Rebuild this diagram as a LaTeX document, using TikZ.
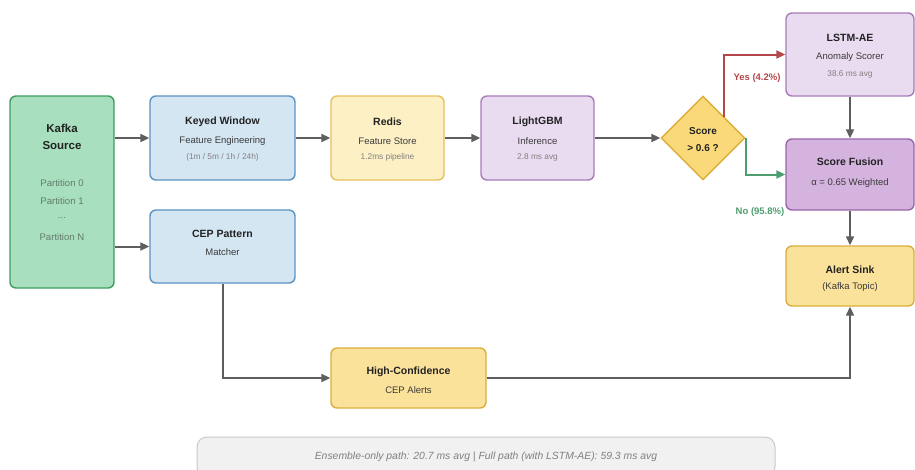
\documentclass[tikz,border=0pt]{standalone}
\usepackage{fontspec}
\setmainfont{Liberation Sans}
\usetikzlibrary{shapes.geometric,arrows.meta,calc}
\definecolor{linegray}{HTML}{5E5E5E}
\definecolor{kfill}{HTML}{A8E0BF}
\definecolor{kdraw}{HTML}{3E9C5E}
\definecolor{bfill}{HTML}{D5E6F3}
\definecolor{bdraw}{HTML}{5B94C2}
\definecolor{yfill}{HTML}{FDF0C5}
\definecolor{ydraw}{HTML}{E6C05C}
\definecolor{pfill}{HTML}{EADCF0}
\definecolor{pdraw}{HTML}{A77BB8}
\definecolor{p2fill}{HTML}{D5B3DF}
\definecolor{p2draw}{HTML}{9A64AB}
\definecolor{gfill}{HTML}{FBE29A}
\definecolor{gdraw}{HTML}{DCAE3C}
\definecolor{dfill}{HTML}{F9D97A}
\definecolor{ffill}{HTML}{F1F1F1}
\definecolor{fdraw}{HTML}{C9C9C9}
\definecolor{titlecol}{HTML}{222222}
\definecolor{subcol}{HTML}{3A3A3A}
\definecolor{smallcol}{HTML}{808080}
\definecolor{partcol}{HTML}{647A6B}
\definecolor{yescol}{HTML}{B5474A}
\definecolor{nocol}{HTML}{4D9E6E}
\tikzset{
  box/.style={draw, rounded corners=6pt, line width=1.4pt, inner sep=0pt},
  ttl/.style={font=\fontsize{10.5}{12}\selectfont\bfseries, text=titlecol, inner sep=0pt},
  bigttl/.style={font=\fontsize{11.5}{14}\selectfont\bfseries, text=titlecol, inner sep=0pt},
  sub/.style={font=\fontsize{9.5}{11}\selectfont, text=subcol, inner sep=0pt},
  small/.style={font=\fontsize{8.3}{9}\selectfont, text=smallcol, inner sep=0pt},
  part/.style={font=\fontsize{9.6}{10}\selectfont, text=partcol, inner sep=0pt},
  arr/.style={draw=linegray, line width=2pt, -{Triangle[length=9pt,width=8pt]}},
  lbl/.style={font=\fontsize{9.5}{10}\selectfont\bfseries, inner sep=0pt}
}
\begin{document}
\begin{tikzpicture}[x=1pt,y=-1pt]
\useasboundingbox (0,0) rectangle (915,469);
% boxes
\node[box, fill=kfill, draw=kdraw, minimum width=104pt, minimum height=192pt] (kafka) at (62,192) {};
\node[box, fill=bfill, draw=bdraw, minimum width=145pt, minimum height=84pt] (kw) at (222.5,138) {};
\node[box, fill=bfill, draw=bdraw, minimum width=145pt, minimum height=73pt] (cep) at (222.5,246.5) {};
\node[box, fill=yfill, draw=ydraw, minimum width=113pt, minimum height=84pt] (redis) at (387.5,138) {};
\node[box, fill=pfill, draw=pdraw, minimum width=113pt, minimum height=84pt] (lgbm) at (537.5,138) {};
\node[draw=gdraw, fill=dfill, line width=1.4pt, diamond, aspect=1, minimum size=84pt, inner sep=0pt] (dia) at (703,138) {};
\node[box, fill=pfill, draw=pdraw, minimum width=128pt, minimum height=83pt] (lstm) at (850,54.5) {};
\node[box, fill=p2fill, draw=p2draw, minimum width=128pt, minimum height=71pt] (fusion) at (850,174.5) {};
\node[box, fill=gfill, draw=gdraw, minimum width=128pt, minimum height=60pt] (sink) at (850,276) {};
\node[box, fill=gfill, draw=gdraw, minimum width=155pt, minimum height=60pt] (hc) at (408.5,378) {};
\node[box, fill=ffill, draw=fdraw, line width=1pt, rounded corners=10pt, minimum width=578pt, minimum height=40pt] (foot) at (486,457) {};
% texts
\node[bigttl] (t1) at (62,128) {Kafka};
\node[bigttl] (t2) at (62,146) {Source};
\node[part] (t3) at (62,183) {Partition 0};
\node[part] (t4) at (62,201) {Partition 1};
\node[part] (t5) at (62,218) {...};
\node[part] (t6) at (62,237) {Partition N};
\node[ttl] (t7) at (222.5,122) {Keyed Window};
\node[sub] (t8) at (222.5,141) {Feature Engineering};
\node[small] (t9) at (222.5,157) {(1m / 5m / 1h / 24h)};
\node[ttl] (t10) at (222.5,234) {CEP Pattern};
\node[sub] (t11) at (222.5,252) {Matcher};
\node[ttl] (t12) at (387.5,122) {Redis};
\node[sub] (t13) at (387.5,141) {Feature Store};
\node[small] (t14) at (387.5,157) {1.2ms pipeline};
\node[ttl] (t15) at (537.5,122) {LightGBM};
\node[sub] (t16) at (537.5,141) {Inference};
\node[small] (t17) at (537.5,157) {2.8 ms avg};
\node[ttl, font=\fontsize{10}{11}\selectfont\bfseries] (t18) at (703,131) {Score};
\node[ttl, font=\fontsize{10}{11}\selectfont\bfseries] (t19) at (703,148) {> 0.6 ?};
\node[ttl] (t20) at (850,38) {LSTM-AE};
\node[sub] (t21) at (850,57) {Anomaly Scorer};
\node[small] (t22) at (850,74) {38.6 ms avg};
\node[ttl] (t23) at (850,162) {Score Fusion};
\node[sub] (t24) at (850,183) {α = 0.65 Weighted};
\node[ttl] (t25) at (850,270) {Alert Sink};
\node[sub] (t26) at (850,287) {(Kafka Topic)};
\node[ttl] (t27) at (408.5,372) {High-Confidence};
\node[sub] (t28) at (408.5,390) {CEP Alerts};
\node[font=\fontsize{10.4}{12}\selectfont\itshape, text=smallcol, inner sep=0pt] (t29) at (486,457) {Ensemble-only path: 20.7 ms avg | Full path (with LSTM-AE): 59.3 ms avg};
% connectors
\draw[arr] (kafka.east |- kw.west) -- (kw.west);
\draw[arr] (kafka.east |- cep.west) -- (cep.west);
\draw[arr] (kw.east) -- (redis.west);
\draw[arr] (redis.east) -- (lgbm.west);
\draw[arr] (lgbm.east) -- (dia.west);
\draw[arr, draw=yescol] (dia.north east) |- (lstm.west);
\draw[arr, draw=nocol] (dia.east) |- (fusion.west);
\draw[arr] (lstm.south) -- (fusion.north);
\draw[arr] (fusion.south) -- (sink.north);
\draw[arr] (cep.south) |- (hc.west);
\draw[arr] (hc.east) -| (sink.south);
\node[lbl, text=yescol] (yes) at (757,78) {Yes (4.2\%)};
\node[lbl, text=nocol] (no) at (760,212) {No (95.8\%)};
\end{tikzpicture}
\end{document}
